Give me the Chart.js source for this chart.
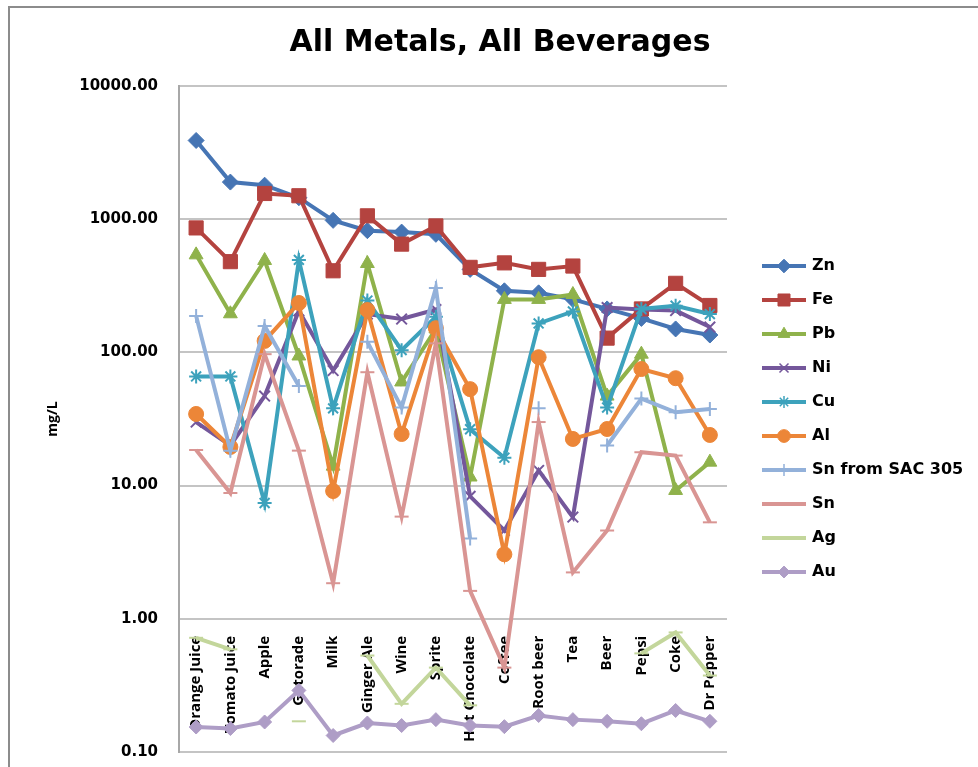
<!DOCTYPE html>
<html>
<head>
<meta charset="utf-8">
<script src="https://cdn.jsdelivr.net/npm/chart.js@4"></script>
<style>
html, body { margin: 0; padding: 0; background: #fff; overflow: hidden; }
#frame { position: absolute; left: 8px; top: 6px; width: 968px; height: 759px;
         border-left: 2px solid #8c8c8c; border-top: 2px solid #8c8c8c; }
#wrap { position: absolute; left: 0; top: 0; width: 978px; height: 767px; }
</style>
</head>
<body>
<div id="frame"></div>
<div id="wrap"><canvas id="chart"></canvas></div>
<script>
// beverages along the x axis
const beverages = ['Orange Juice', 'Tomato Juice', 'Apple', 'Gatorade', 'Milk', 'Ginger Ale', 'Wine', 'Sprite',
    'Hot Chocolate', 'Coffee', 'Root beer', 'Tea', 'Beer', 'Pepsi', 'Coke', 'Dr Pepper'];

// mg/L values (null = no point)
const zn  = [3900, 1900, 1800, 1450, 980, 820, 800, 770, 420, 290, 280, 250, 212, 180, 150, 135];
const fe  = [860, 480, 1560, 1500, 410, 1060, 650, 890, 435, 470, 420, 445, 128, 212, 330, 225];
const pb  = [540, 195, 490, 94, 14, 465, 60, 150, 11.6, 250, 250, 272, 47, 97, 9.2, 15];
const ni  = [30, 20, 47, 205, 73, 194, 178, 210, 8.3, 4.6, 13, 5.8, 217, 210, 206, 155];
const cu  = [66, 66, 7.4, 495, 38, 245, 104, 185, 26.5, 16.2, 165, 203, 38.5, 212, 224, 194];
const al  = [34.5, 19.5, 122, 235, 9.1, 208, 24.4, 152, 53, 3.05, 92, 22.4, 26.6, 75, 64, 24];
const sac = [188, 18.3, 158, 56, null, 120, 38.5, 305, 4.0, null, 38, null, 20, 45, 35.5, 37.6];
const sn  = [18.5, 8.8, 97, 18.3, 1.85, 71, 5.85, 117, 1.62, 0.43, 30, 2.23, 4.6, 17.8, 16.8, 5.3];
const ag  = [0.72, 0.59, null, 0.17, null, 0.53, 0.23, 0.43, 0.224, null, null, null, null, 0.55, 0.79, 0.375];
const au  = [0.154, 0.15, 0.168, 0.29, 0.133, 0.165, 0.158, 0.175, 0.158, 0.155, 0.188, 0.175, 0.17, 0.163, 0.205, 0.17];

const yTicks = [0.1, 1, 10, 100, 1000, 10000];

// series names, data and look
const seriesNames = ['Zn', 'Fe', 'Pb', 'Ni', 'Cu', 'Al', 'Sn from SAC 305', 'Sn', 'Ag', 'Au'];
const seriesData = [zn, fe, pb, ni, cu, al, sac, sn, ag, au];
const seriesColors = ['#4675B4', '#B4433F', '#8FB24B', '#74579B', '#3DA2BC', '#EC8638', '#93B1DA', '#D99593', '#C3D69B', '#AE9DC6'];
const seriesMarkers = ['rectRot', 'rect', 'triangle', 'crossRot', 'star', 'circle', 'cross', 'line', 'line', 'rectRot'];
const markerSizes = [8, 10, 8, 7.5, 7, 7.5, 7, 7, 7, 7];
const legendMarkers = [true, true, true, true, true, true, true, false, false, true];

const strokeOnly = ['crossRot', 'star', 'cross', 'line'];

const datasets = seriesNames.map(function(name, i) {
    const thin = strokeOnly.indexOf(seriesMarkers[i]) >= 0;
    return {
        label: name,
        data: seriesData[i],
        borderColor: seriesColors[i],
        backgroundColor: seriesColors[i],
        borderWidth: 4,
        pointStyle: seriesMarkers[i],
        pointRadius: markerSizes[i],
        pointBorderWidth: thin ? 2 : 1,
        pointBackgroundColor: seriesColors[i],
        pointBorderColor: seriesColors[i],
        spanGaps: false,
        tension: 0,
        clip: false,
        order: seriesNames.length - i   // later series on top, like Excel
    };
});

// title over the whole picture + legend on the right (line with the marker in the middle)
const sideLegend = {
    id: 'sideLegend',
    afterDraw: function(chart) {
        const c = chart.ctx;
        const area = chart.chartArea;
        c.save();
        c.fillStyle = '#000';
        c.font = 'bold 30px "DejaVu Sans"';
        c.textAlign = 'center';
        c.textBaseline = 'middle';
        c.fillText('All Metals, All Beverages', 500, 43);

        const step = 34;
        const mid = (area.top + area.bottom) / 2;
        const y0 = mid - (seriesNames.length - 1) / 2 * step;
        const x0 = area.right + 35;
        seriesNames.forEach(function(name, i) {
            const y = y0 + i * step;
            c.strokeStyle = seriesColors[i];
            c.fillStyle = seriesColors[i];
            c.lineWidth = 4;
            c.beginPath();
            c.moveTo(x0, y);
            c.lineTo(x0 + 44, y);
            c.stroke();
            if (legendMarkers[i] && Chart.helpers && Chart.helpers.drawPoint) {
                c.lineWidth = strokeOnly.indexOf(seriesMarkers[i]) >= 0 ? 1.5 : 1;
                Chart.helpers.drawPoint(c, {
                    pointStyle: seriesMarkers[i],
                    radius: markerSizes[i] * 0.85,
                    rotation: 0,
                    borderWidth: c.lineWidth
                }, x0 + 22, y);
            }
            c.fillStyle = '#000';
            c.font = 'bold 16px "DejaVu Sans"';
            c.textAlign = 'left';
            c.textBaseline = 'middle';
            c.fillText(name, x0 + 50, y);
        });
        c.restore();
    }
};

const ctx = document.getElementById('chart').getContext('2d');
const metalsChart = new Chart(ctx, {
    type: 'line',
    data: {
        labels: beverages,
        datasets: datasets
    },
    options: {
        responsive: true,
        maintainAspectRatio: false,
        animation: false,
        layout: {
            padding: { left: 0, right: 251, top: 86, bottom: 15 }
        },
        plugins: {
            legend: { display: false },
            tooltip: { enabled: false },
            title: { display: false }
        },
        scales: {
            x: {
                type: 'category',
                offset: true,
                position: { y: 1 },
                grid: { display: false },
                border: { display: false },
                ticks: {
                    autoSkip: false,
                    minRotation: 90,
                    maxRotation: 90,
                    padding: 9,
                    color: '#000',
                    font: { family: 'Open Sans', size: 15, weight: 'bold' }
                }
            },
            y: {
                type: 'logarithmic',
                min: 0.1,
                max: 10000,
                afterBuildTicks: function(scale) {
                    scale.ticks = yTicks.map(function(v) { return { value: v }; });
                },
                afterFit: function(scale) {
                    scale.width = 179;
                },
                grid: { color: '#c4c4c4', lineWidth: 2, drawTicks: true, tickLength: 21, tickColor: 'rgba(0,0,0,0)' },
                border: { color: '#a8a8a8', width: 2 },
                ticks: {
                    padding: 0,
                    color: '#000',
                    font: { family: 'DejaVu Sans', size: 15, weight: 'bold' },
                    callback: function(value) { return Number(value).toFixed(2); }
                },
                title: {
                    display: true,
                    text: 'mg/L',
                    color: '#000',
                    font: { family: 'Open Sans', size: 14, weight: 'bold' },
                    padding: { top: 45, bottom: 0 }
                }
            }
        }
    },
    plugins: [sideLegend]
});
</script>
</body>
</html>
